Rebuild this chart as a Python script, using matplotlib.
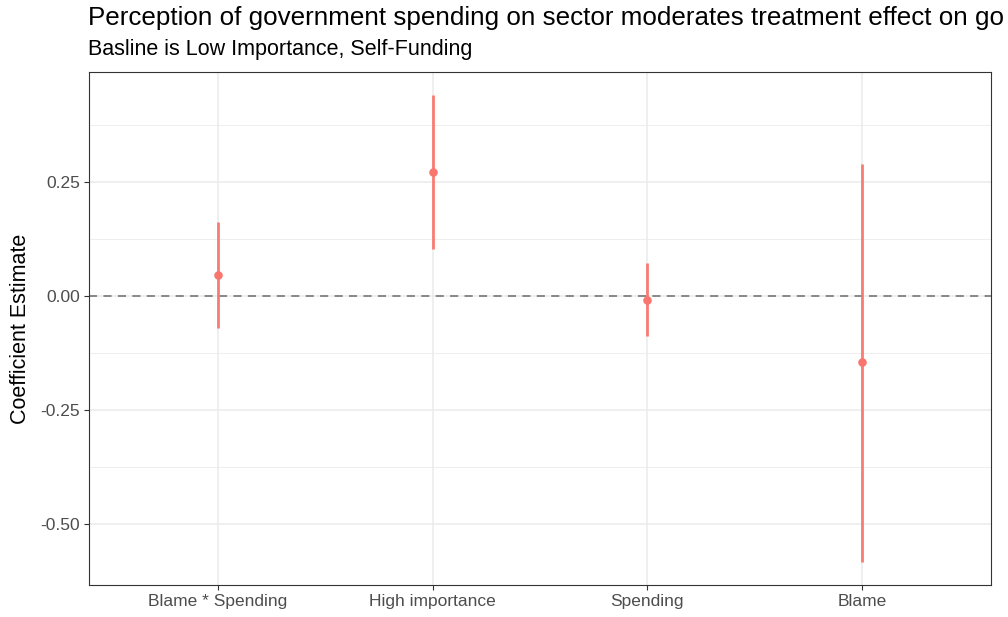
import matplotlib
matplotlib.use("Agg")
import matplotlib.pyplot as plt
from matplotlib.ticker import MultipleLocator

# ---------------------------------------------------------------- data
terms    = ["Blame * Spending", "High importance", "Spending", "Blame"]
estimate = [0.046, 0.271, -0.009, -0.146]
ci_low   = [-0.071, 0.103, -0.089, -0.583]
ci_high  = [0.162, 0.441, 0.073, 0.289]

# title as visible in the reference (it runs off the right edge there)
TITLE    = "Perception of government spending on sector moderates treatment effect on go"
SUBTITLE = "Basline is Low Importance, Self-Funding"

RED   = "#F8766D"
GRID  = "#EBEBEB"
FRAME = "#333333"
TICK  = "#4D4D4D"

plt.rcParams["font.family"] = ["Liberation Sans", "DejaVu Sans"]

fig = plt.figure(figsize=(10.08, 6.17), dpi=100)
ax = fig.add_axes([89 / 1008, 1 - 585 / 617, (991 - 89) / 1008, (585 - 72) / 617])

xpos = list(range(1, len(terms) + 1))

ax.axhline(0, color="#808080", linewidth=1.3, linestyle=(0, (4.5, 3.5)), zorder=2)
ax.vlines(xpos, ci_low, ci_high, color=RED, linewidth=2.0, alpha=0.95, zorder=3)
ax.scatter(xpos, estimate, color=RED, s=38, zorder=4, linewidths=0)

ax.set_xlim(0.4, len(terms) + 0.6)
ax.set_ylim(-0.634, 0.491)
ax.set_xticks(xpos)
ax.set_xticklabels(terms)
ax.yaxis.set_major_locator(MultipleLocator(0.25))
ax.set_yticks([0.375, 0.125, -0.125, -0.375], minor=True)
ax.yaxis.set_major_formatter(plt.FuncFormatter(lambda v, _: f"{v:.2f}"))

ax.set_axisbelow(True)
ax.grid(True, which="major", color=GRID, linewidth=1.1)
ax.grid(True, which="minor", axis="y", color=GRID, linewidth=0.6)
for s in ax.spines.values():
    s.set_color(FRAME)
    s.set_linewidth(0.8)
ax.tick_params(which="major", length=3.5, width=0.8, color=FRAME,
               labelcolor=TICK, labelsize=12.5, pad=3)
ax.tick_params(which="minor", length=0)

ax.set_ylabel("Coefficient Estimate", fontsize=15.5, color="black", labelpad=7)

fig.text(88 / 1008, 1 - 18 / 617, TITLE,
         fontsize=18.7, ha="left", va="center", color="black")
fig.text(88 / 1008, 1 - 50 / 617, SUBTITLE,
         fontsize=15.5, ha="left", va="center", color="black")

fig.savefig("out.png", dpi=100)
